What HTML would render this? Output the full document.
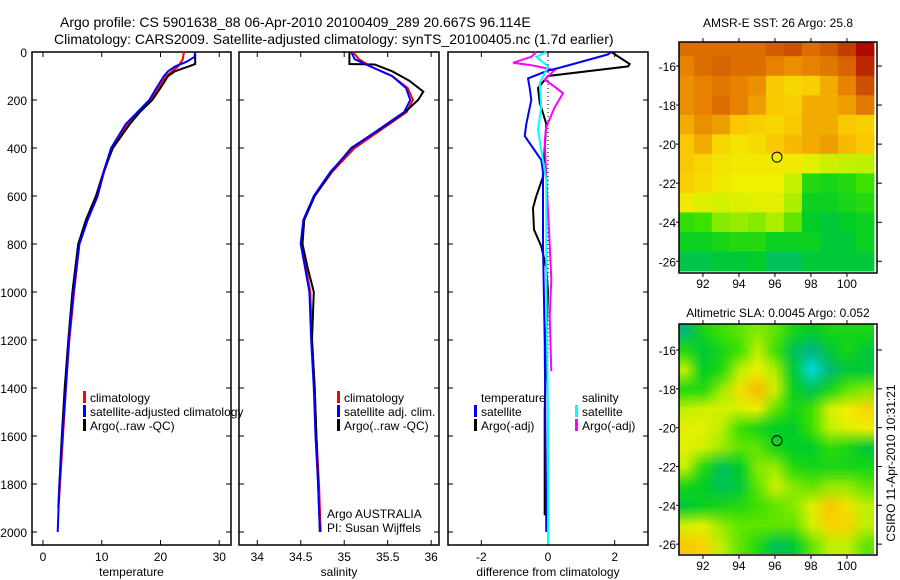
<!DOCTYPE html>
<html><head><meta charset="utf-8"><style>
html,body{margin:0;padding:0;background:#fff}
svg{display:block;font-family:"Liberation Sans",sans-serif}
</style></head><body>
<svg id="fig" width="900" height="580" xmlns="http://www.w3.org/2000/svg">
<text x="60" y="27" font-size="14">Argo profile: CS 5901638_88 06-Apr-2010 20100409_289 20.667S 96.114E</text>
<text x="54" y="44" font-size="14">Climatology: CARS2009. Satellite-adjusted climatology: synTS_20100405.nc (1.7d earlier)</text>
<g id="plots"></g>
<text x="778" y="27" font-size="12" text-anchor="middle">AMSR-E SST: 26 Argo: 25.8</text>
<text x="778" y="317" font-size="12" text-anchor="middle">Altimetric SLA: 0.0045 Argo: 0.052</text>
<text transform="translate(895,463) rotate(-90)" font-size="12" text-anchor="middle">CSIRO 11-Apr-2010 10:31:21</text>
</svg>
<script>
// ---- profile data ----
const tDepth = [0,50,60,80,100,150,200,250,300,400,500,600,700,800,1000,1200,1400,1600,1800,1900];
const tArgo  = [25.9,25.9,24.8,22.5,21.3,20,18.6,16.5,14.8,11.9,10.3,9.0,7.3,6.0,5.0,4.3,3.7,3.2,2.8,2.6];
const tcDepth = [0,30,60,80,100,150,200,300,400,500,600,700,800,1000,1200,1400,1600,1800,1880];
const tClim  = [24.0,23.8,23,22,21,19.7,18.4,14.5,11.8,10.4,9.3,7.6,6.2,5.3,4.5,3.9,3.4,2.9,2.7];
const tsDepth = [0,20,40,60,80,100,150,200,300,400,500,600,700,800,1000,1200,1400,1600,1800,2000];
const tSat   = [25.9,25.8,24.5,22.5,21.3,20.6,19.3,18.1,14.1,11.6,10.3,9.3,7.6,6.2,5.2,4.4,3.9,3.3,2.8,2.5];
const sDepth = [0,50,52,80,120,165,200,250,300,400,500,600,700,800,900,1000,1200,1400,1600,1800,2000];
const sArgo  = [35.06,35.06,35.35,35.55,35.75,35.91,35.85,35.7,35.5,35.08,34.85,34.66,34.54,34.52,34.58,34.65,34.63,34.66,34.68,34.7,34.72];
const scDepth = [0,30,60,100,150,200,250,300,400,500,600,700,800,900,1000,1200,1400,1600,1800,2000];
const sClim  = [35.1,35.17,35.3,35.55,35.73,35.79,35.72,35.52,35.12,34.86,34.66,34.54,34.51,34.56,34.61,34.63,34.66,34.68,34.71,34.73];
const sSat   = [35.08,35.12,35.3,35.55,35.71,35.76,35.69,35.49,35.09,34.84,34.65,34.53,34.5,34.55,34.6,34.62,34.65,34.67,34.7,34.72];
const dTsDepth = [0,10,60,80,110,150,200,300,350,400,450,500,800,1200,2000];
const dTSat  = [1.9,1.8,0.5,-0.05,-0.6,-0.55,-0.5,-0.65,-0.7,-0.45,-0.2,-0.15,-0.15,-0.1,-0.05];
const dTaDepth = [0,50,60,100,150,210,300,400,520,600,650,740,810,900,1000,1200,1500,1930];
const dTArgo = [1.9,2.45,2.4,0.0,-0.3,-0.25,-0.05,-0.1,-0.15,-0.35,-0.45,-0.42,-0.2,-0.05,0.0,-0.05,-0.1,-0.1];
const dSsDepth = [0,20,60,130,230,325,410,535,1000,1500,2050];
const dSSat  = [-0.05,-0.35,0.0,-0.25,-0.2,-0.3,-0.2,-0.05,-0.05,0.0,0.0];
const dSaDepth = [0,20,45,55,75,115,145,172,230,313,367,520,800,950,1100,1330];
const dSArgo = [-0.35,-0.5,-1.05,-0.5,0.2,-0.1,0.2,0.45,0.2,-0.05,-0.1,-0.05,0.05,0.1,0.05,0.1];
const depthTicks = [0,200,400,600,800,1000,1200,1400,1600,1800,2000];
const tempTicks = [0,10,20,30];
const salTicks = [34,34.5,35,35.5,36];
const diffTicks = [-2,0,2];

// ---- map data (1-degree cells, rows from -15 to -26, cols 91..101), colour index ----
const sstGrid = [
[8.5,8.5,8.5,8.5,8.5,8.7,8.8,8.5,8.7,9,9.5],
[8.3,8.5,8.6,8.5,8.5,8.3,8.2,8.3,8.4,8.6,9.2],
[8.2,8.3,8.4,8.3,8.2,7.8,7.6,7.7,8,8.3,8.8],
[8.2,8.3,8.5,8.3,8.1,7.8,7.7,8,8,8.1,8.4],
[8,8.2,8.1,7.8,7.7,7.6,7.8,8,8,7.8,7.7],
[7.8,8,7.6,7.4,7.5,7.8,7.9,8,8.1,7.9,7.8],
[7.8,7.6,7.4,7.3,7.3,7.3,7.3,7,6.7,6.6,6.5],
[7.7,7.5,7.3,7.2,7.2,7.2,6.6,5.6,5.5,5.6,5.8],
[7.3,6.9,6.8,6.9,7,7,6.4,5.4,5.4,5.5,5.6],
[5.7,5.8,6.2,6.3,6.2,6.4,6,5.3,5.2,5.3,5.4],
[5.4,5.4,5.5,5.6,5.6,5.4,5.4,5.4,5.2,5.2,5.4],
[5.1,5.1,5.2,5.2,5.3,5,5,5.2,5.2,5.2,5.2]];
const slaGrid = [
[4.8,5.5,5.8,6,6.2,6,5.5,5.3,5.5,5.5,5.5],
[5.6,5.2,5.5,5.8,6.5,5.8,5,4.7,5.2,5.5,5.2],
[6.5,5.3,5.6,6.5,7.2,6.4,5.2,4,4.8,5.2,5.2],
[5.6,5.6,6.3,7.4,7.9,6.8,5.4,5,5.5,6,6.2],
[6.5,6.8,6.8,6.8,7.2,6,5.5,5.8,6.8,7.2,7.6],
[7,7,6.5,5.8,5.5,5.3,5.3,5.8,6.5,7,7.2],
[7,6.8,6.3,6,6,5.5,5.3,5.3,5.7,5.5,5.2],
[6.6,5.6,5,5.3,6.2,6.3,5.6,5.5,5.5,5.5,5.5],
[5.5,5.3,5,5.2,6,6.8,6.2,6,6.3,6.3,6],
[5.2,5.4,5.5,5.6,5.8,6,6.2,7,7.8,7.4,6.5],
[6.8,7,6.3,6,6,6,6,6.8,7.6,7.6,6.5],
[7.8,7.6,6.5,6,5.6,5,5.2,6,6.5,6.5,6]];
const lonTicks = [92,94,96,98,100];
const latTicks = [16,18,20,22,24,26];
const argoPos = [96.114,20.667];

const NS='http://www.w3.org/2000/svg';
const root=document.getElementById('plots');
function mk(tag,attrs,parent){const e=document.createElementNS(NS,tag);for(const k in attrs)e.setAttribute(k,attrs[k]);(parent||root).appendChild(e);return e;}
const Y0=52,Y1=545,DMAX=2054;
const yD=d=>Y0+d/DMAX*(Y1-Y0);

function panel(name,x0,x1,vmin,vmax,ticks,xlabel,showY){
  const xs=v=>x0+(v-vmin)/(vmax-vmin)*(x1-x0);
  const g=mk('g',{});
  
  
  const fr=mk('rect',{x:x0,y:Y0,width:x1-x0,height:Y1-Y0,fill:'none',stroke:'#000','stroke-width':1.5},g);
  
  
  depthTicks.forEach(d=>{
    const y=yD(d);
    mk('line',{x1:x0,x2:x0+5,y1:y,y2:y,stroke:'#000'},g);
    mk('line',{x1:x1,x2:x1-5,y1:y,y2:y,stroke:'#000'},g);
    if(showY){const t=mk('text',{x:27,y:y+5,'font-size':12,'text-anchor':'end'},g);t.textContent=d;
      
      }
  });
  ticks.forEach(v=>{
    const x=xs(v);
    mk('line',{x1:x,x2:x,y1:Y0,y2:Y0+5,stroke:'#000'},g);
    mk('line',{x1:x,x2:x,y1:Y1,y2:Y1-5,stroke:'#000'},g);
    const t=mk('text',{x:x,y:561,'font-size':12,'text-anchor':'middle'},g);t.textContent=v;
    
    
  });
  const xl=mk('text',{x:(x0+x1)/2,y:576,'font-size':12,'text-anchor':'middle'},g);xl.textContent=xlabel;
  
  
  return {g,xs};
}
function line(p,depths,vals,color,nm){
  const pts=depths.map((d,i)=>p.xs(vals[i]).toFixed(1)+','+yD(d).toFixed(1)).join(' ');
  const l=mk('polyline',{points:pts,fill:'none',stroke:color,'stroke-width':2},p.g);
  
  
}
function legend(g,x,y,color,label,nm){
  if(color){mk('rect',{x:x,y:y-11,width:3,height:12,fill:color},g);}
  const t=mk('text',{x:x+7,y:y,'font-size':12},g);t.textContent=label;
  
  
}

const pT=panel('temperature',32,231,-1.87,32.0,tempTicks,'temperature',true);
line(pT,tcDepth,tClim,'#f00','temp-climatology-line');
line(pT,tDepth,tArgo,'#000','temp-argo-line');
line(pT,tsDepth,tSat,'#00f','temp-satellite-line');
legend(pT.g,83,402,'#f00','climatology','legend-climatology');
legend(pT.g,83,416,'#00f','satellite-adjusted climatology','legend-satellite-adjusted');
legend(pT.g,83,430,'#000','Argo(..raw -QC)','legend-argo');

const pS=panel('salinity',239,439,33.79,36.09,salTicks,'salinity',false);
line(pS,scDepth,sClim,'#f00','sal-climatology-line');
line(pS,sDepth,sArgo,'#000','sal-argo-line');
line(pS,scDepth,sSat,'#00f','sal-satellite-line');
legend(pS.g,337,402,'#f00','climatology','legend-sal-climatology');
legend(pS.g,337,416,'#00f','satellite adj. clim.','legend-sal-satellite');
legend(pS.g,337,430,'#000','Argo(..raw -QC)','legend-sal-argo');
legend(pS.g,320,518,null,'Argo AUSTRALIA','argo-australia-label');
legend(pS.g,320,532,null,'PI: Susan Wijffels','pi-label');

const pD=panel('difference',448,648,-3,3,diffTicks,'difference from climatology',false);
mk('line',{x1:pD.xs(0),x2:pD.xs(0),y1:Y0,y2:yD(1960),stroke:'#000','stroke-dasharray':'1,3'},pD.g);
line(pD,dTaDepth,dTArgo,'#000','diff-temp-argo-line');
line(pD,dSaDepth,dSArgo,'#f0f','diff-sal-argo-line');
line(pD,dTsDepth,dTSat,'#00f','diff-temp-satellite-line');
line(pD,dSsDepth,dSSat,'#0ff','diff-sal-satellite-line');
legend(pD.g,474,402,null,'temperature','legend-diff-temperature-header');
legend(pD.g,474,416,'#00f','satellite','legend-diff-temp-satellite');
legend(pD.g,474,430,'#000','Argo(-adj)','legend-diff-temp-argo');
legend(pD.g,575,402,null,'salinity','legend-diff-salinity-header');
legend(pD.g,575,416,'#0ff','satellite','legend-diff-sal-satellite');
legend(pD.g,575,430,'#f0f','Argo(-adj)','legend-diff-sal-argo');

// ---- maps ----
const cstops=[[3.5,[0,120,255]],[4,[0,220,220]],[4.7,[0,180,140]],[5.3,[0,205,40]],[5.8,[60,225,0]],[6.5,[190,240,0]],[7.2,[240,240,0]],[7.8,[250,200,0]],[8.3,[230,130,0]],[9,[195,60,0]],[9.6,[170,0,0]]];
function cmap(v){
  if(v<=cstops[0][0])return cstops[0][1];
  for(let i=1;i<cstops.length;i++){if(v<=cstops[i][0]){const a=cstops[i-1],b=cstops[i],f=(v-a[0])/(b[0]-a[0]);return a[1].map((c,k)=>Math.round(c+(b[1][k]-c)*f));}}
  return cstops[cstops.length-1][1];
}
function map(name,grid,top,bottom,latTop,latBot,smooth){
  const L=679,R=877,lonL=90.67,lonR=101.67;
  const xs=lon=>L+(lon-lonL)/(lonR-lonL)*(R-L);
  const ys=lat=>top+(lat-latTop)/(latBot-latTop)*(bottom-top);
  const g=mk('g',{});
  
  
  const cid='clip-'+name;
  const cp=mk('clipPath',{id:cid},g);mk('rect',{x:L,y:top,width:R-L,height:bottom-top},cp);
  const cg=mk('g',{'clip-path':'url(#'+cid+')'},g);
  if(smooth){
    const cv=document.createElement('canvas');cv.width=grid[0].length;cv.height=grid.length;
    const ctx=cv.getContext('2d');const im=ctx.createImageData(cv.width,cv.height);
    grid.forEach((row,r)=>row.forEach((v,c)=>{const col=cmap(v),i=(r*cv.width+c)*4;im.data[i]=col[0];im.data[i+1]=col[1];im.data[i+2]=col[2];im.data[i+3]=255;}));
    ctx.putImageData(im,0,0);
    const big=document.createElement('canvas');big.width=Math.round(xs(101.5)-xs(90.5));big.height=Math.round(ys(26.5)-ys(14.5));
    const bc=big.getContext('2d');bc.imageSmoothingEnabled=true;bc.drawImage(cv,0,0,big.width,big.height);
    const fo=mk('foreignObject',{x:xs(90.5),y:ys(14.5),width:big.width,height:big.height},cg);
    const img=document.createElementNS('http://www.w3.org/1999/xhtml','div');
    fo.appendChild(img);big.style.display='block';img.appendChild(big);
    
    
  } else {
    grid.forEach((row,r)=>row.forEach((v,c)=>{
      const x=xs(90.5+c),y=ys(14.5+r);
      const cell=mk('rect',{x:x,y:y,width:xs(91.5+c)-x+0.5,height:ys(15.5+r)-y+0.5,fill:'rgb('+cmap(v).join(',')+')'},cg);
      
      
    }));
  }
  const fr=mk('rect',{x:L,y:top,width:R-L,height:bottom-top,fill:'none',stroke:'#000','stroke-width':1.5},g);
  
  
  lonTicks.forEach(v=>{const x=xs(v);mk('line',{x1:x,x2:x,y1:top,y2:top-4,stroke:'#000'},g);mk('line',{x1:x,x2:x,y1:bottom,y2:bottom+4,stroke:'#000'},g);
    const t=mk('text',{x:x,y:bottom+15,'font-size':12,'text-anchor':'middle'},g);t.textContent=v;
    
    });
  latTicks.forEach(v=>{const y=ys(v);mk('line',{x1:R,x2:R+5,y1:y,y2:y,stroke:'#000'},g);mk('line',{x1:L,x2:L-3,y1:y,y2:y,stroke:'#000'},g);
    const t=mk('text',{x:676,y:y+5,'font-size':12,'text-anchor':'end'},g);t.textContent='-'+v;
    
    });
  const c=mk('circle',{cx:xs(argoPos[0]),cy:ys(argoPos[1]),r:5,fill:'none',stroke:'#000','stroke-width':1},g);
  
  
}
map('sst',sstGrid,42,273,14.77,26.6,false);
map('sla',slaGrid,324,555,14.66,26.56,true);
</script>
</body></html>
